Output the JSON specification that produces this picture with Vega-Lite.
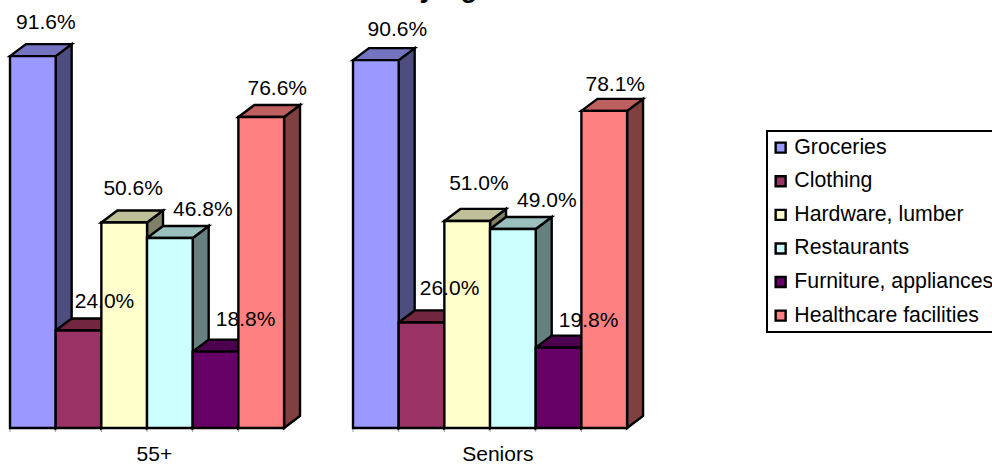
{
  "$schema": "https://vega.github.io/schema/vega-lite/v6.json",
  "width": 992,
  "height": 465,
  "autosize": "none",
  "padding": 0,
  "background": "white",
  "config": {
    "view": {"stroke": null},
    "font": "Liberation Sans",
    "legend": {"strokeWidth": 2}
  },
  "data": {
    "values": [
      {"group": "55+", "category": "Groceries", "value": 91.6},
      {"group": "55+", "category": "Clothing", "value": 24.0},
      {"group": "55+", "category": "Hardware, lumber", "value": 50.6},
      {"group": "55+", "category": "Restaurants", "value": 46.8},
      {"group": "55+", "category": "Furniture, appliances", "value": 18.8},
      {"group": "55+", "category": "Healthcare facilities", "value": 76.6},
      {"group": "Seniors", "category": "Groceries", "value": 90.6},
      {"group": "Seniors", "category": "Clothing", "value": 26.0},
      {"group": "Seniors", "category": "Hardware, lumber", "value": 51.0},
      {"group": "Seniors", "category": "Restaurants", "value": 49.0},
      {"group": "Seniors", "category": "Furniture, appliances", "value": 19.8},
      {"group": "Seniors", "category": "Healthcare facilities", "value": 78.1}
    ]
  },
  "transform": [
    {"calculate": "indexof(['Groceries','Clothing','Hardware, lumber','Restaurants','Furniture, appliances','Healthcare facilities'], datum.category)", "as": "slot"},
    {"calculate": "(datum.group === '55+' ? 0 : 7.51) + datum.slot", "as": "x0"},
    {"calculate": "datum.x0 + 1", "as": "x1"},
    {"calculate": "0", "as": "base"},
    {"calculate": "-1", "as": "tickEnd"},
    {"calculate": "format(datum.value, '.1f') + '%'", "as": "pct"}
  ],
  "layer": [
    {
      "mark": {"type": "rule", "color": "#999999", "strokeWidth": 1},
      "encoding": {
        "x": {
          "field": "x0", "type": "quantitative", "title": null,
          "scale": {"domain": [-0.219, 21.5], "nice": false, "zero": false},
          "axis": {"orient": "bottom", "offset": -37, "domain": false, "ticks": false, "grid": false, "values": [3.15, 10.67], "labelExpr": "datum.value < 5 ? '55+' : 'Seniors'", "labelFont": "Liberation Sans", "labelFontSize": 21, "labelColor": "black", "labelPadding": 15}
        },
        "y": {"field": "base", "type": "quantitative", "scale": {"domain": [-9.113, 105.419], "nice": false, "zero": false}, "axis": null},
        "y2": {"field": "tickEnd"}
      }
    },
    {
      "transform": [
        {"calculate": "[datum.x1, datum.x1 + 0.35]", "as": "sideX"},
        {"calculate": "[datum.value, datum.value + 2.96]", "as": "sideTop"},
        {"calculate": "[0, 2.96]", "as": "sideLow"},
        {"flatten": ["sideX", "sideTop", "sideLow"]}
      ],
      "mark": {"type": "area", "stroke": "black", "strokeWidth": 2.4, "strokeJoin": "miter"},
      "encoding": {
        "x": {
          "field": "sideX", "type": "quantitative", "title": null,
          "scale": {"domain": [-0.219, 21.5], "nice": false, "zero": false},
          "axis": {"orient": "bottom", "offset": -37, "domain": false, "ticks": false, "grid": false, "values": [3.15, 10.67], "labelExpr": "datum.value < 5 ? '55+' : 'Seniors'", "labelFont": "Liberation Sans", "labelFontSize": 21, "labelColor": "black", "labelPadding": 15}
        },
        "y": {"field": "sideTop", "type": "quantitative", "scale": {"domain": [-9.113, 105.419], "nice": false, "zero": false}, "axis": null},
        "y2": {"field": "sideLow"},
        "detail": {"field": "group"},
        "fill": {
          "field": "category",
          "type": "nominal",
          "legend": null,
          "scale": {
            "domain": ["Groceries", "Clothing", "Hardware, lumber", "Restaurants", "Furniture, appliances", "Healthcare facilities"],
            "range": ["#4D4D80", "#4D1933", "#808066", "#668080", "#330033", "#804040"]
          }
        }
      }
    },
    {
      "transform": [
        {"calculate": "[datum.x0, datum.x0 + 0.35, datum.x1, datum.x1 + 0.35]", "as": "capX"},
        {"calculate": "[datum.value, datum.value + 2.96, datum.value + 2.96, datum.value + 2.96]", "as": "capTop"},
        {"calculate": "[datum.value, datum.value, datum.value, datum.value + 2.96]", "as": "capLow"},
        {"flatten": ["capX", "capTop", "capLow"]}
      ],
      "mark": {"type": "area", "stroke": "black", "strokeWidth": 2.4, "strokeJoin": "miter"},
      "encoding": {
        "x": {
          "field": "capX", "type": "quantitative", "title": null,
          "scale": {"domain": [-0.219, 21.5], "nice": false, "zero": false},
          "axis": {"orient": "bottom", "offset": -37, "domain": false, "ticks": false, "grid": false, "values": [3.15, 10.67], "labelExpr": "datum.value < 5 ? '55+' : 'Seniors'", "labelFont": "Liberation Sans", "labelFontSize": 21, "labelColor": "black", "labelPadding": 15}
        },
        "y": {"field": "capTop", "type": "quantitative", "scale": {"domain": [-9.113, 105.419], "nice": false, "zero": false}, "axis": null},
        "y2": {"field": "capLow"},
        "detail": {"field": "group"},
        "fill": {
          "field": "category",
          "type": "nominal",
          "legend": null,
          "scale": {
            "domain": ["Groceries", "Clothing", "Hardware, lumber", "Restaurants", "Furniture, appliances", "Healthcare facilities"],
            "range": ["#7373BF", "#732640", "#BFBF99", "#99BFBF", "#4D004D", "#BF6060"]
          }
        }
      }
    },
    {
      "mark": {"type": "rect", "stroke": "black", "strokeWidth": 2.4},
      "encoding": {
        "x": {
          "field": "x0", "type": "quantitative", "title": null,
          "scale": {"domain": [-0.219, 21.5], "nice": false, "zero": false},
          "axis": {"orient": "bottom", "offset": -37, "domain": false, "ticks": false, "grid": false, "values": [3.15, 10.67], "labelExpr": "datum.value < 5 ? '55+' : 'Seniors'", "labelFont": "Liberation Sans", "labelFontSize": 21, "labelColor": "black", "labelPadding": 15}
        },
        "x2": {"field": "x1"},
        "y": {"field": "value", "type": "quantitative", "scale": {"domain": [-9.113, 105.419], "nice": false, "zero": false}, "axis": null},
        "y2": {"field": "base"},
        "fill": {
          "field": "category",
          "type": "nominal",
          "scale": {
            "domain": ["Groceries", "Clothing", "Hardware, lumber", "Restaurants", "Furniture, appliances", "Healthcare facilities"],
            "range": ["#9999FF", "#993366", "#FFFFCC", "#CCFFFF", "#660066", "#FF8080"]
          },
          "legend": {
            "orient": "none",
            "legendX": 767,
            "legendY": 131,
            "title": null,
            "symbolType": "square",
            "symbolSize": 100,
            "symbolStrokeWidth": 2.4,
            "symbolStrokeColor": "black",
            "symbolOffset": -3,
            "labelFont": "Liberation Sans",
            "labelFontSize": 21.3,
            "labelColor": "black",
            "labelOffset": 3,
            "labelLimit": 400,
            "rowPadding": 11.6,
            "padding": 6,
            "strokeColor": "black",
            "fillColor": "white"
          }
        }
      }
    },
    {
      "transform": [
        {"calculate": "datum.group + '|' + datum.category", "as": "labelKey"},
        {"calculate": "{'55+|Groceries':13,'55+|Clothing':26,'55+|Hardware, lumber':9,'55+|Restaurants':33,'55+|Furniture, appliances':30,'55+|Healthcare facilities':16,'Seniors|Groceries':21.5,'Seniors|Clothing':28,'Seniors|Hardware, lumber':11.7,'Seniors|Restaurants':34,'Seniors|Furniture, appliances':30,'Seniors|Healthcare facilities':11}[datum.labelKey]", "as": "nudgeX"},
        {"calculate": "{'55+|Groceries':21.5,'55+|Clothing':17,'55+|Hardware, lumber':21.6,'55+|Restaurants':15.5,'55+|Furniture, appliances':20,'55+|Healthcare facilities':15.5,'Seniors|Groceries':18,'Seniors|Clothing':21,'Seniors|Hardware, lumber':25,'Seniors|Restaurants':16,'Seniors|Furniture, appliances':15,'Seniors|Healthcare facilities':14}[datum.labelKey]", "as": "nudgeY"},
        {"calculate": "datum.x0 + 0.5 + datum.nudgeX / 45.67", "as": "labelX"},
        {"calculate": "datum.value + 2.96 + datum.nudgeY / 4.06", "as": "labelY"}
      ],
      "mark": {"type": "text", "font": "Liberation Sans", "fontSize": 21, "color": "black", "align": "center", "baseline": "middle"},
      "encoding": {
        "x": {
          "field": "labelX", "type": "quantitative", "title": null,
          "scale": {"domain": [-0.219, 21.5], "nice": false, "zero": false},
          "axis": {"orient": "bottom", "offset": -37, "domain": false, "ticks": false, "grid": false, "values": [3.15, 10.67], "labelExpr": "datum.value < 5 ? '55+' : 'Seniors'", "labelFont": "Liberation Sans", "labelFontSize": 21, "labelColor": "black", "labelPadding": 15}
        },
        "y": {"field": "labelY", "type": "quantitative", "scale": {"domain": [-9.113, 105.419], "nice": false, "zero": false}, "axis": null},
        "text": {"field": "pct"}
      }
    },
    {
      "data": {"values": [{"heading": "by Age"}]},
      "transform": [
        {"calculate": "8.605", "as": "headingX"},
        {"calculate": "106.16", "as": "headingY"}
      ],
      "mark": {"type": "text", "font": "Liberation Sans", "fontSize": 27, "fontWeight": "bold", "color": "black", "align": "left", "baseline": "alphabetic"},
      "encoding": {
        "x": {
          "field": "headingX", "type": "quantitative", "title": null,
          "scale": {"domain": [-0.219, 21.5], "nice": false, "zero": false},
          "axis": {"orient": "bottom", "offset": -37, "domain": false, "ticks": false, "grid": false, "values": [3.15, 10.67], "labelExpr": "datum.value < 5 ? '55+' : 'Seniors'", "labelFont": "Liberation Sans", "labelFontSize": 21, "labelColor": "black", "labelPadding": 15}
        },
        "y": {"field": "headingY", "type": "quantitative", "scale": {"domain": [-9.113, 105.419], "nice": false, "zero": false}, "axis": null},
        "text": {"field": "heading"}
      }
    }
  ],
  "resolve": {"scale": {"fill": "independent"}}
}
